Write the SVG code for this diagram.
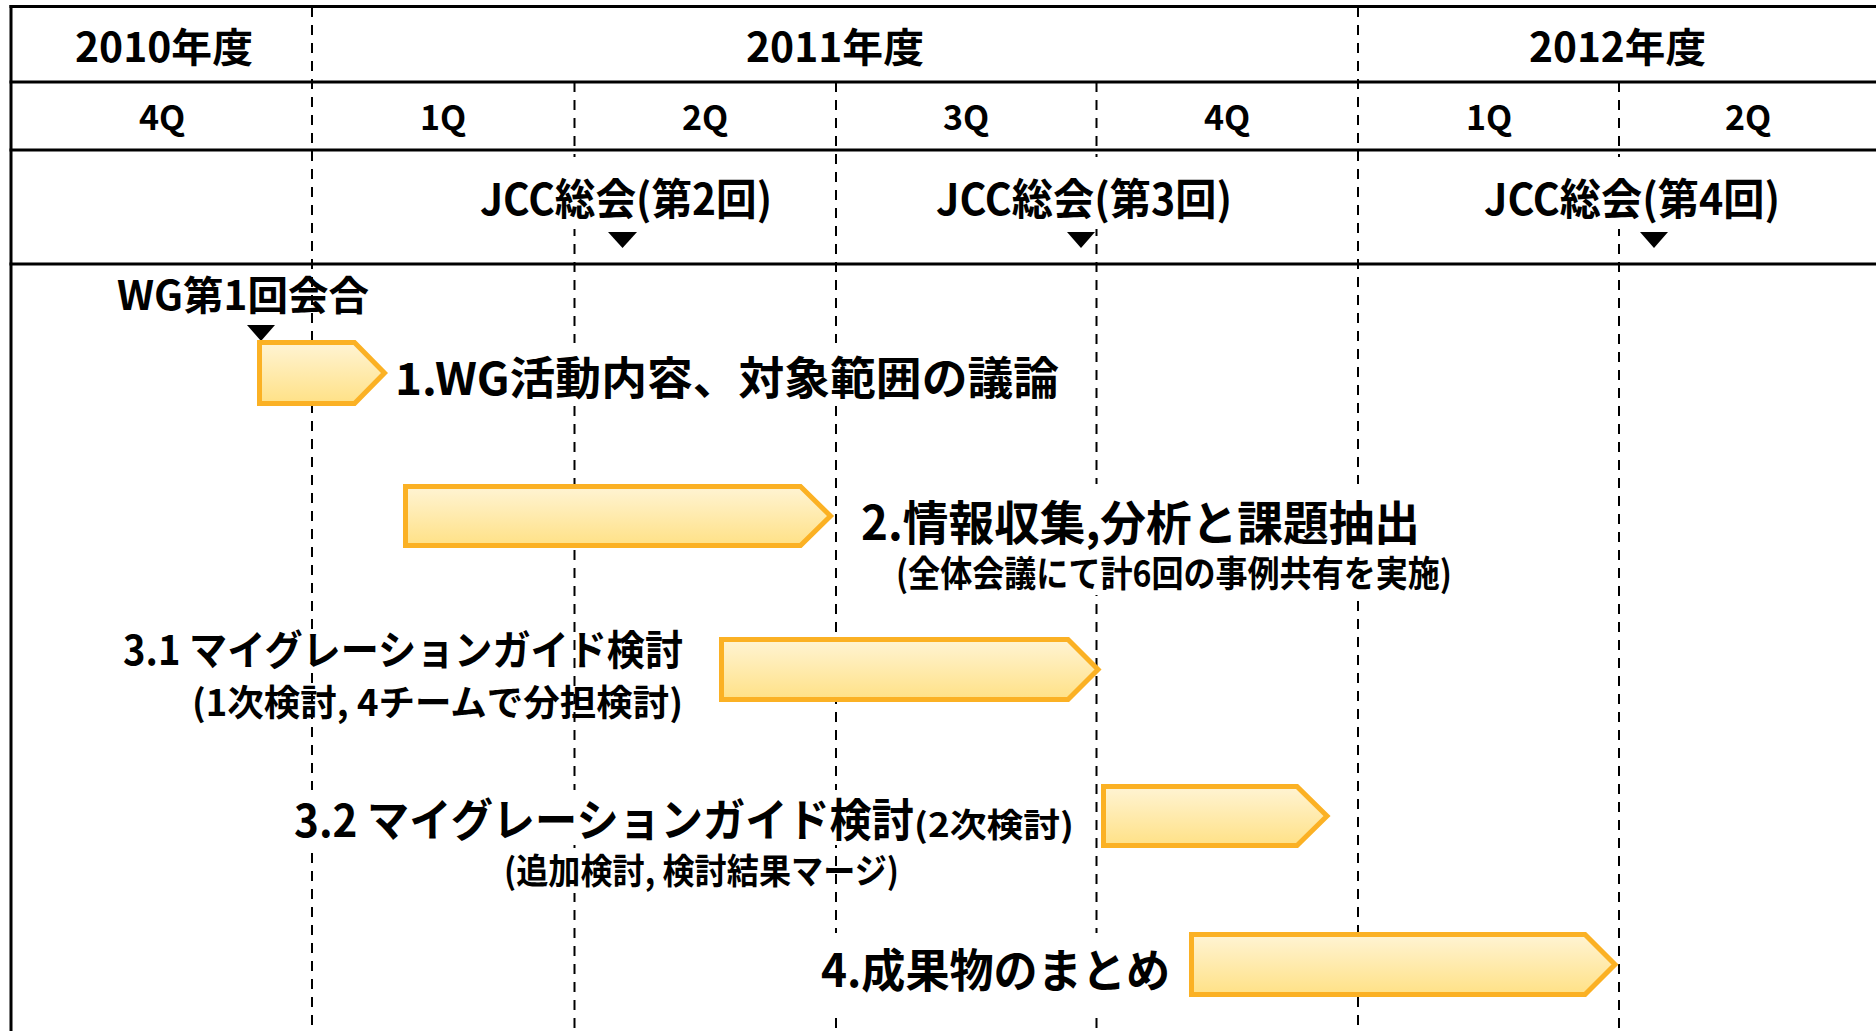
<svg xmlns="http://www.w3.org/2000/svg" width="1876" height="1031" viewBox="0 0 1876 1031">
<style>
  .t { font-family: "Noto Sans CJK JP", "Noto Sans", sans-serif; font-weight: bold; fill: #000; }
  .frame { stroke: #000; stroke-width: 3; fill: none; }
  .dash { stroke: #000; stroke-width: 2; stroke-dasharray: 10 8; fill: none; }
  .bar { fill: url(#barGrad); stroke: #FBB124; stroke-width: 5; stroke-linejoin: miter; }
  .mark { fill: #000; }
  .bg { fill: #fff; }
</style>
<defs>
  <linearGradient id="barGrad" x1="0" y1="0" x2="0" y2="1">
    <stop offset="0" stop-color="#FFF4D4"/>
    <stop offset="1" stop-color="#FFE186"/>
  </linearGradient>
</defs>
<rect x="0" y="0" width="1876" height="1031" fill="#fff"/>

<g id="connectors">
  <line class="dash" x1="312" y1="7" x2="312" y2="1031"/>
  <line class="dash" x1="574.5" y1="82" x2="574.5" y2="1031"/>
  <line class="dash" x1="836" y1="82" x2="836" y2="1031"/>
  <line class="dash" x1="1096.5" y1="82" x2="1096.5" y2="1031"/>
  <line class="dash" x1="1358" y1="7" x2="1358" y2="1031"/>
  <line class="dash" x1="1619" y1="82" x2="1619" y2="1031"/>
</g>

<g id="frame">
  <line class="frame" x1="9.5" y1="6.5" x2="1876" y2="6.5"/>
  <line class="frame" x1="11" y1="5" x2="11" y2="1031"/>
  <line class="frame" x1="9.5" y1="82" x2="1876" y2="82"/>
  <line class="frame" x1="9.5" y1="150" x2="1876" y2="150"/>
  <line class="frame" x1="9.5" y1="264" x2="1876" y2="264"/>
</g>

<g id="years">
  <text class="t" x="75" y="62" font-size="40" textLength="178" lengthAdjust="spacingAndGlyphs">2010年度</text>
  <text class="t" x="746" y="62" font-size="40" textLength="178" lengthAdjust="spacingAndGlyphs">2011年度</text>
  <text class="t" x="1529" y="62" font-size="40" textLength="177" lengthAdjust="spacingAndGlyphs">2012年度</text>
</g>

<g id="quarters" text-anchor="middle">
  <text class="t" x="162" y="130" font-size="34">4Q</text>
  <text class="t" x="443" y="130" font-size="34">1Q</text>
  <text class="t" x="705" y="130" font-size="34">2Q</text>
  <text class="t" x="966" y="130" font-size="34">3Q</text>
  <text class="t" x="1227" y="130" font-size="34">4Q</text>
  <text class="t" x="1489" y="130" font-size="34">1Q</text>
  <text class="t" x="1748" y="130" font-size="34">2Q</text>
</g>

<g id="jcc2">
  <rect class="bg" x="475" y="157" width="302" height="72"/>
  <text class="t" x="480" y="215" font-size="43" textLength="292" lengthAdjust="spacingAndGlyphs">JCC総会(第2回)</text>
  <polygon class="mark" points="608,232 637,232 622.5,248"/>
</g>
<g id="jcc3">
  <rect class="bg" x="931" y="157" width="307" height="72"/>
  <text class="t" x="936" y="215" font-size="43" textLength="296" lengthAdjust="spacingAndGlyphs">JCC総会(第3回)</text>
  <polygon class="mark" points="1067,232 1095,232 1081,248"/>
</g>
<g id="jcc4">
  <rect class="bg" x="1479" y="157" width="307" height="72"/>
  <text class="t" x="1484" y="215" font-size="43" textLength="296" lengthAdjust="spacingAndGlyphs">JCC総会(第4回)</text>
  <polygon class="mark" points="1640,232 1668,232 1654,248"/>
</g>

<g id="wg1">
  <text class="t" x="117" y="310" font-size="40" textLength="252" lengthAdjust="spacingAndGlyphs">WG第1回会合</text>
  <polygon class="mark" points="247,325 275,325 261,341"/>
</g>

<g id="task1">
  <rect class="bg" x="390" y="343" width="675" height="60"/>
  <path class="bar" d="M259.5,342.5 H354.5 L384.5,373 L354.5,403.5 H259.5 Z"/>
  <text class="t" x="395" y="395" font-size="45" textLength="664" lengthAdjust="spacingAndGlyphs">1.WG活動内容、対象範囲の議論</text>
</g>

<g id="task2">
  <rect class="bg" x="855" y="484" width="605" height="111"/>
  <path class="bar" d="M405.5,486.5 H800.5 L830.5,516 L800.5,545.5 H405.5 Z"/>
  <text class="t" x="861" y="540" font-size="47" textLength="559" lengthAdjust="spacingAndGlyphs">2.情報収集,分析と課題抽出</text>
  <text class="t" x="896" y="587" font-size="36" textLength="556" lengthAdjust="spacingAndGlyphs">(全体会議にて計6回の事例共有を実施)</text>
</g>

<g id="task31">
  <path class="bar" d="M721.5,639.5 H1068 L1098,669.5 L1068,699.5 H721.5 Z"/>
  <text class="t" x="123" y="665" font-size="41" textLength="560" lengthAdjust="spacingAndGlyphs">3.1 マイグレーションガイド検討</text>
  <text class="t" x="192" y="716" font-size="36" textLength="491" lengthAdjust="spacingAndGlyphs">(1次検討, 4チームで分担検討)</text>
</g>

<g id="task32">
  <rect class="bg" x="290" y="790" width="790" height="55"/>
  <rect class="bg" x="500" y="848" width="320" height="45"/>
  <path class="bar" d="M1103.5,786.5 H1297 L1327,816 L1297,845.5 H1103.5 Z"/>
  <text class="t" x="294" y="837" font-size="45" textLength="620" lengthAdjust="spacingAndGlyphs">3.2 マイグレーションガイド検討</text>
  <text class="t" x="914" y="837" font-size="33" textLength="160" lengthAdjust="spacingAndGlyphs">(2次検討)</text>
  <text class="t" x="504" y="884" font-size="35" textLength="395" lengthAdjust="spacingAndGlyphs">(追加検討, 検討結果マージ)</text>
</g>

<g id="task4">
  <rect class="bg" x="815" y="933" width="365" height="80"/>
  <path class="bar" d="M1191.5,934.5 H1585 L1615,964.5 L1585,994.5 H1191.5 Z"/>
  <text class="t" x="821" y="987" font-size="46" textLength="349" lengthAdjust="spacingAndGlyphs">4.成果物のまとめ</text>
</g>
</svg>
